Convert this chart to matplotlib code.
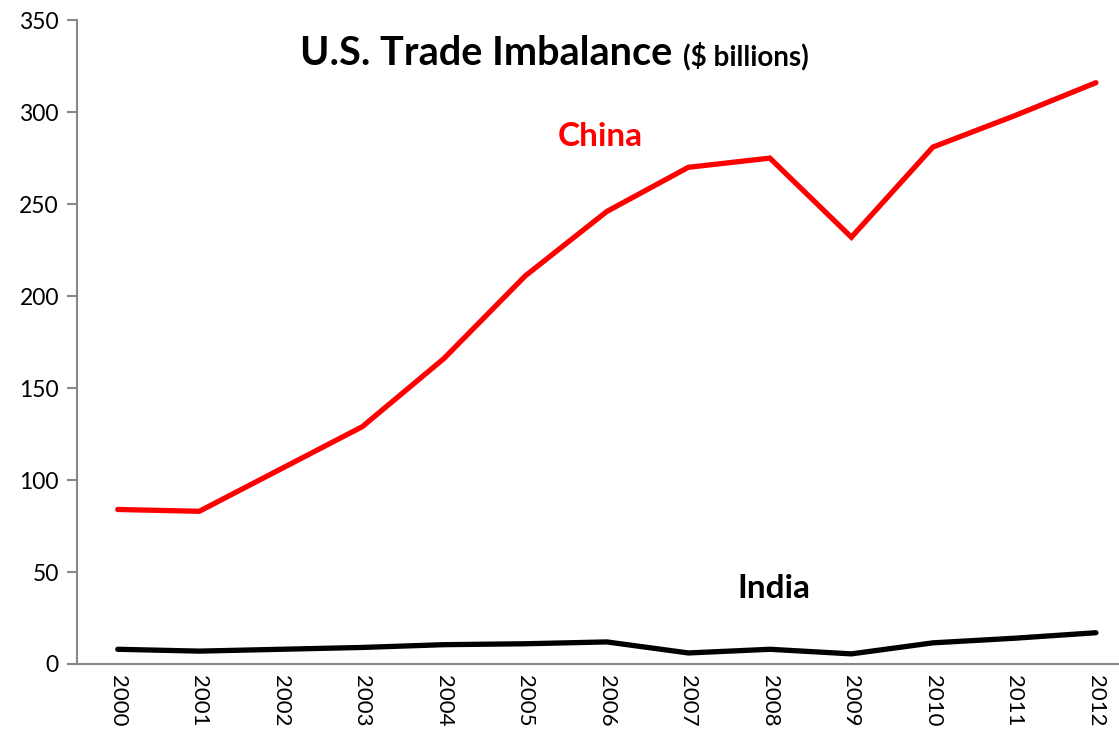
import matplotlib
matplotlib.use("Agg")
import matplotlib.pyplot as plt

# data
years = ["2000", "2001", "2002", "2003", "2004", "2005", "2006",
         "2007", "2008", "2009", "2010", "2011", "2012"]
china = [84, 83, 106, 129, 166, 211, 246, 270, 275, 232, 281, 298, 316]
india = [8, 7, 8, 9, 10.5, 11, 12, 6, 8, 5.5, 11.5, 14, 17]

plt.rcParams['font.family'] = ['Lato', 'DejaVu Sans']

fig = plt.figure(figsize=(11.19, 7.35), dpi=100)
ax = fig.add_axes([0.0688, 0.0966, 0.947, 0.876])

x = list(range(len(years)))
ax.plot(x, china, color='#ff0000', lw=3.8, solid_capstyle='round', solid_joinstyle='miter')
ax.plot(x, india, color='black', lw=3.8, solid_capstyle='round', solid_joinstyle='miter')

ax.set_xlim(-0.5, len(years) - 0.5)
ax.set_ylim(0, 350)
ax.set_yticks(range(0, 351, 50))
ax.set_xticks(x)
ax.set_xticklabels(years, rotation=270, fontsize=16)
ax.tick_params(axis='x', length=0, pad=8)
ax.tick_params(axis='y', labelsize=16.5, length=7, color='#888888', width=1.5, pad=6)

for s in ['top', 'right']:
    ax.spines[s].set_visible(False)
for s in ['left', 'bottom']:
    ax.spines[s].set_color('#888888')
    ax.spines[s].set_linewidth(1.5)

# titles and series labels
ax.text(0.21, 0.930, "U.S. Trade Imbalance", transform=ax.transAxes,
        fontsize=28.5, fontweight='bold', ha='left', va='baseline')
ax.text(0.572, 0.930, "($ billions)", transform=ax.transAxes,
        fontsize=20, fontweight='bold', ha='left', va='baseline')
ax.text(5.92, 287, "China", color='#ff0000', fontsize=24, fontweight='bold', ha='center', va='center')
ax.text(8.05, 41, "India", color='black', fontsize=24, fontweight='bold', ha='center', va='center')

fig.savefig("out.png", dpi=100)
